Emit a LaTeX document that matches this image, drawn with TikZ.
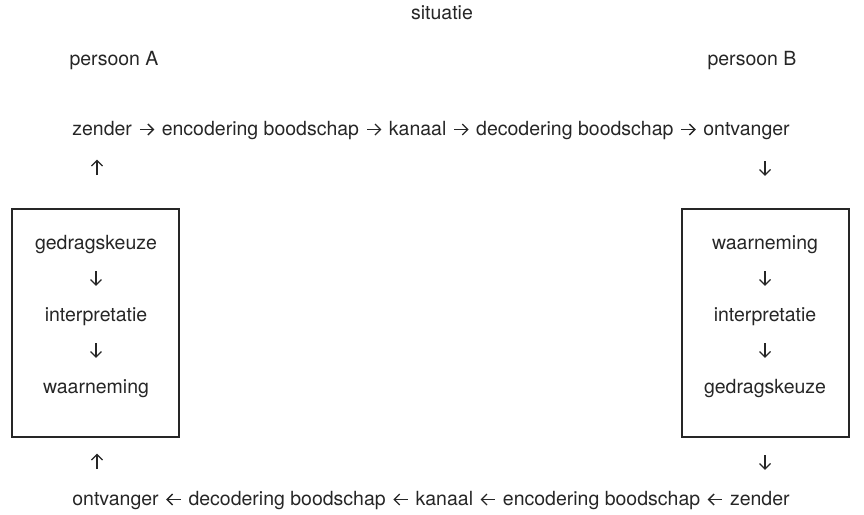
\documentclass[tikz,border=0pt]{standalone}
\usepackage{fontspec}
\setmainfont{TeX Gyre Heros}
\tikzset{glyph/.style={draw=black!85, line width=1.3pt, line cap=butt, line join=miter}}
\newcommand{\ra}{\tikz[baseline=0pt,x=1pt,y=1pt]{\path (-2.5,0) rectangle (16.5,1); \draw[glyph] (0,5.5) -- (13.2,5.5); \draw[glyph] (8,11) -- (13.5,5.5) -- (8,0);}}
\newcommand{\la}{\tikz[baseline=0pt,x=1pt,y=1pt]{\path (-2.5,0) rectangle (16.5,1); \draw[glyph] (0.8,5.5) -- (14,5.5); \draw[glyph] (6,11) -- (0.5,5.5) -- (6,0);}}
\newcommand{\ua}{\tikz[baseline=0pt,x=1pt,y=1pt]{\path (0,0) rectangle (12,1); \draw[glyph] (6,0) -- (6,14.2); \draw[glyph] (0.5,9) -- (6,14.5) -- (11.5,9);}}
\newcommand{\da}{\tikz[baseline=0pt,x=1pt,y=1pt]{\path (0,0) rectangle (12,1); \draw[glyph] (6,0.3) -- (6,14.5); \draw[glyph] (0.5,5.5) -- (6,0) -- (11.5,5.5);}}
\begin{document}
\begin{tikzpicture}[x=1pt,y=-1pt,
  lbl/.style={inner sep=0pt, text height=14pt, text depth=4pt, font=\fontsize{19.5}{23}\selectfont, text=black!85},
  box/.style={draw=black!85, line width=1.2pt}]
\useasboundingbox (0,0) rectangle (864,514);
\node[lbl] (sit) at (442,14) {situatie};
\node[lbl] (pa) at (114,60) {persoon A};
\node[lbl] (pb) at (752,60) {persoon B};
\node[lbl] (top) at (431,130) {zender \ra{} encodering boodschap \ra{} kanaal \ra{} decodering boodschap \ra{} ontvanger};
\node[lbl] (ual) at (97,170) {\ua};
\node[lbl] (dar) at (765,170) {\da};
\draw[box] (12,209) rectangle (179,437);
\draw[box] (682,209) rectangle (849,437);
\node[lbl] (l1) at (96,244) {gedragskeuze};
\node[lbl] (l2) at (96,280) {\da};
\node[lbl] (l3) at (96,316) {interpretatie};
\node[lbl] (l4) at (96,352) {\da};
\node[lbl] (l5) at (96,388) {waarneming};
\node[lbl] (r1) at (765,244) {waarneming};
\node[lbl] (r2) at (765,280) {\da};
\node[lbl] (r3) at (765,316) {interpretatie};
\node[lbl] (r4) at (765,352) {\da};
\node[lbl] (r5) at (765,388) {gedragskeuze};
\node[lbl] (ual2) at (97,464) {\ua};
\node[lbl] (dar2) at (765,464) {\da};
\node[lbl] (bot) at (431,500) {ontvanger \la{} decodering boodschap \la{} kanaal \la{} encodering boodschap \la{} zender};
\end{tikzpicture}
\end{document}
